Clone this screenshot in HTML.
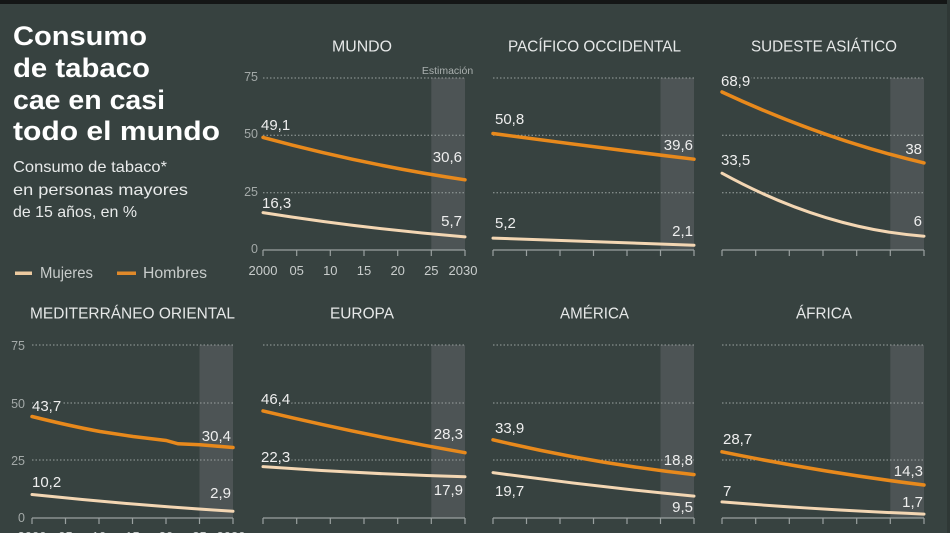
<!DOCTYPE html>
<html><head><meta charset="utf-8">
<style>
html,body{margin:0;padding:0;background:#374240;}
svg{display:block;font-family:"Liberation Sans",Arial,sans-serif;}
.vl{font-size:15px;fill:#eeeeee;}
.st{paint-order:stroke;stroke:#374240;stroke-width:4px;stroke-linejoin:round;}
.ttl{font-size:16px;fill:#e6e8e8;text-anchor:middle;}
.ax{font-size:12.5px;fill:#a3a9a8;text-anchor:end;}
.tk{font-size:13px;fill:#c9cdcc;text-anchor:middle;}
.g{stroke:#9aa1a0;stroke-width:1;stroke-dasharray:1.5 2;}
.b{stroke:#9aa1a0;stroke-width:1.2;fill:none;}
.h{stroke:#e8891c;stroke-width:3.5;fill:none;stroke-linecap:round;}
.m{stroke:#f3d6b3;stroke-width:3;fill:none;stroke-linecap:round;}
.sh{fill:#4d5455;}
</style></head>
<body>
<svg width="950" height="533" viewBox="0 0 950 533" xmlns="http://www.w3.org/2000/svg">
<rect x="0" y="0" width="950" height="533" fill="#374240"/>
<rect x="0" y="0" width="950" height="4" fill="#141616"/>
<rect x="947" y="0" width="3" height="533" fill="#2f3836"/>

<!-- Title -->
<g font-weight="bold" font-size="27" fill="#ffffff">
<text x="13" y="45" textLength="134" lengthAdjust="spacingAndGlyphs">Consumo</text>
<text x="13" y="77" textLength="137" lengthAdjust="spacingAndGlyphs">de tabaco</text>
<text x="13" y="109" textLength="152" lengthAdjust="spacingAndGlyphs">cae en casi</text>
<text x="13" y="140" textLength="207" lengthAdjust="spacingAndGlyphs">todo el mundo</text>
</g>
<g font-size="16" fill="#e8eaea">
<text x="13" y="172" textLength="154" lengthAdjust="spacingAndGlyphs">Consumo de tabaco*</text>
<text x="13" y="195" textLength="175" lengthAdjust="spacingAndGlyphs">en personas mayores</text>
<text x="13" y="217" textLength="124" lengthAdjust="spacingAndGlyphs">de 15 años, en %</text>
</g>
<!-- Legend -->
<rect x="15" y="271.5" width="17" height="3.5" fill="#eccaa0"/>
<text x="40" y="278" font-size="16" fill="#c8cccb" textLength="53" lengthAdjust="spacingAndGlyphs">Mujeres</text>
<rect x="117" y="271.5" width="19" height="3.5" fill="#e0892a"/>
<text x="143" y="278" font-size="16" fill="#c8cccb" textLength="64" lengthAdjust="spacingAndGlyphs">Hombres</text>

<!-- Shades -->
<rect class="sh" x="431.3" y="78" width="33.7" height="172"/>
<rect class="sh" x="660.5" y="78" width="33.5" height="172"/>
<rect class="sh" x="890.3" y="78" width="33.7" height="172"/>
<rect class="sh" x="199.5" y="345" width="33.5" height="173"/>
<rect class="sh" x="431.3" y="345" width="33.7" height="173"/>
<rect class="sh" x="660.5" y="345" width="33.5" height="173"/>
<rect class="sh" x="890.3" y="345" width="33.7" height="173"/>

<!-- Gridlines -->
<g class="g">
<line x1="263" y1="78" x2="465" y2="78"/><line x1="263" y1="135.3" x2="465" y2="135.3"/><line x1="263" y1="192.7" x2="465" y2="192.7"/>
<line x1="493" y1="78" x2="694" y2="78"/><line x1="493" y1="135.3" x2="694" y2="135.3"/><line x1="493" y1="192.7" x2="694" y2="192.7"/>
<line x1="722" y1="78" x2="924" y2="78"/><line x1="722" y1="135.3" x2="924" y2="135.3"/><line x1="722" y1="192.7" x2="924" y2="192.7"/>
<line x1="32" y1="345" x2="233" y2="345"/><line x1="32" y1="403" x2="233" y2="403"/><line x1="32" y1="460" x2="233" y2="460"/>
<line x1="263" y1="345" x2="465" y2="345"/><line x1="263" y1="403" x2="465" y2="403"/><line x1="263" y1="460" x2="465" y2="460"/>
<line x1="493" y1="345" x2="694" y2="345"/><line x1="493" y1="403" x2="694" y2="403"/><line x1="493" y1="460" x2="694" y2="460"/>
<line x1="722" y1="345" x2="924" y2="345"/><line x1="722" y1="403" x2="924" y2="403"/><line x1="722" y1="460" x2="924" y2="460"/>
</g>

<!-- Axes -->
<g class="b">
<path d="M263 250H465M263 250v6M296.7 250v6M330.3 250v6M364 250v6M397.7 250v6M431.3 250v6M465 250v6"/>
<path d="M493 250H694M493 250v6M526.5 250v6M560 250v6M593.5 250v6M627 250v6M660.5 250v6M694 250v6"/>
<path d="M722 250H924M722 250v6M755.7 250v6M789.3 250v6M823 250v6M856.7 250v6M890.3 250v6M924 250v6"/>
<path d="M32 518H233M32 518v6M65.5 518v6M99 518v6M132.5 518v6M166 518v6M199.5 518v6M233 518v6"/>
<path d="M263 518H465M263 518v6M296.7 518v6M330.3 518v6M364 518v6M397.7 518v6M431.3 518v6M465 518v6"/>
<path d="M493 518H694M493 518v6M526.5 518v6M560 518v6M593.5 518v6M627 518v6M660.5 518v6M694 518v6"/>
<path d="M722 518H924M722 518v6M755.7 518v6M789.3 518v6M823 518v6M856.7 518v6M890.3 518v6M924 518v6"/>
</g>

<!-- Axis labels -->
<text class="ax" x="258" y="81">75</text><text class="ax" x="258" y="138">50</text><text class="ax" x="258" y="196">25</text><text class="ax" x="258" y="253">0</text>
<text class="ax" x="25" y="350">75</text><text class="ax" x="25" y="408">50</text><text class="ax" x="25" y="465">25</text><text class="ax" x="25" y="522">0</text>
<g class="tk">
<text x="263" y="275">2000</text><text x="296.7" y="275">05</text><text x="330.3" y="275">10</text><text x="364" y="275">15</text><text x="397.7" y="275">20</text><text x="431.3" y="275">25</text><text x="463" y="275">2030</text>
<text x="32" y="541">2000</text><text x="65.5" y="541">05</text><text x="99" y="541">10</text><text x="132.5" y="541">15</text><text x="166" y="541">20</text><text x="199.5" y="541">25</text><text x="231" y="541">2030</text>
</g>
<text x="447.5" y="74" font-size="10.5" fill="#aab0af" text-anchor="middle">Estimación</text>

<!-- Titles -->
<text class="ttl" x="362" y="51.5" textLength="60" lengthAdjust="spacingAndGlyphs">MUNDO</text>
<text class="ttl" x="594.5" y="51.5" textLength="173" lengthAdjust="spacingAndGlyphs">PACÍFICO OCCIDENTAL</text>
<text class="ttl" x="824" y="51.5" textLength="146" lengthAdjust="spacingAndGlyphs">SUDESTE ASIÁTICO</text>
<text class="ttl" x="132.5" y="318.5" textLength="205" lengthAdjust="spacingAndGlyphs">MEDITERRÁNEO ORIENTAL</text>
<text class="ttl" x="362" y="318.5" textLength="64" lengthAdjust="spacingAndGlyphs">EUROPA</text>
<text class="ttl" x="594.5" y="318.5" textLength="69" lengthAdjust="spacingAndGlyphs">AMÉRICA</text>
<text class="ttl" x="824" y="318.5" textLength="56" lengthAdjust="spacingAndGlyphs">ÁFRICA</text>

<!-- Series -->
<path class="h" d="M263 137.4 Q364 164.8 465 179.8"/>
<path class="m" d="M263 212.6 Q364 228.6 465 236.9"/>
<path class="h" d="M493 133.5 Q593.5 147 694 159.2"/>
<path class="m" d="M493 238.1 Q593.5 242 694 245.2"/>
<path class="h" d="M722 92 Q823 139.2 924 162.9"/>
<path class="m" d="M722 173.2 Q823 228.7 924 236.2"/>
<path class="h" d="M32 416.5 Q70 426 100 431.5 L133 436.5 L166 440.5 L178 443.8 L200 444.8 L233 447.5"/>
<path class="m" d="M32 494.5 Q132.5 505 233 511.3"/>
<path class="h" d="M263 410.9 Q364 435 465 452.7"/>
<path class="m" d="M263 466.6 Q364 474 465 476.7"/>
<path class="h" d="M493 439.8 Q593.5 463.6 694 474.6"/>
<path class="m" d="M493 472.6 Q593.5 486.6 694 496.1"/>
<path class="h" d="M722 451.8 Q823 472.5 924 485"/>
<path class="m" d="M722 501.9 Q823 510 924 514.1"/>

<!-- Value labels -->
<g class="vl">
<text class="st" x="261" y="130">49,1</text><text class="st" x="262" y="208">16,3</text>
<text x="462" y="162" text-anchor="end">30,6</text><text x="462" y="226" text-anchor="end">5,7</text>
<text class="st" x="495" y="124">50,8</text><text class="st" x="495" y="228">5,2</text>
<text x="693" y="150" text-anchor="end">39,6</text><text x="693" y="236" text-anchor="end">2,1</text>
<text class="st" x="721" y="86">68,9</text><text class="st" x="721" y="165">33,5</text>
<text x="922" y="154" text-anchor="end">38</text><text x="922" y="226" text-anchor="end">6</text>
<text class="st" x="32" y="411">43,7</text><text class="st" x="32" y="487">10,2</text>
<text x="231" y="441" text-anchor="end">30,4</text><text x="231" y="498" text-anchor="end">2,9</text>
<text class="st" x="261" y="404">46,4</text><text class="st" x="261" y="462">22,3</text>
<text x="463" y="439" text-anchor="end">28,3</text><text x="463" y="495" text-anchor="end">17,9</text>
<text class="st" x="495" y="433">33,9</text><text class="st" x="495" y="496">19,7</text>
<text x="693" y="465" text-anchor="end">18,8</text><text x="693" y="512" text-anchor="end">9,5</text>
<text class="st" x="723" y="444">28,7</text><text class="st" x="723" y="496">7</text>
<text x="923" y="476" text-anchor="end">14,3</text><text x="923" y="507" text-anchor="end">1,7</text>
</g>
</svg>
</body></html>
